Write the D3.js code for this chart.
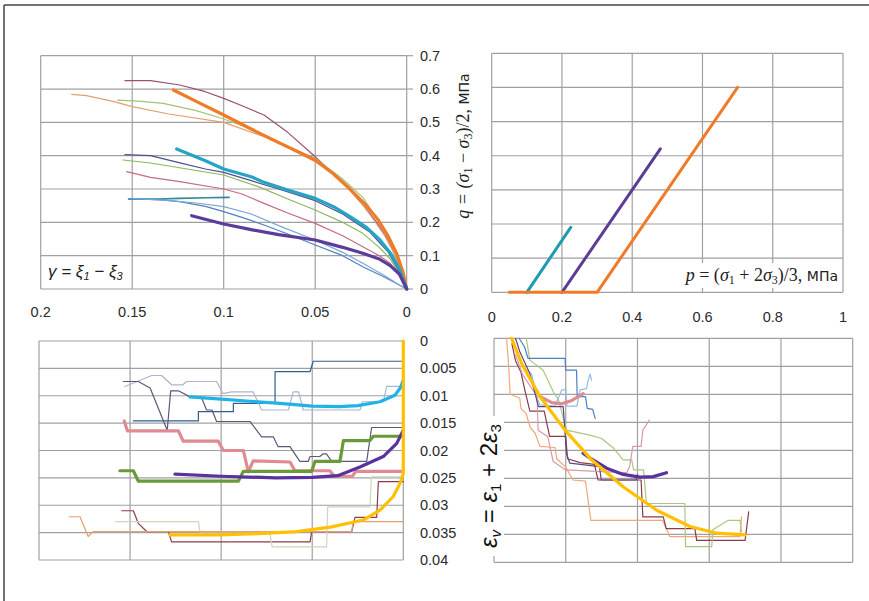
<!DOCTYPE html>
<html>
<head>
<meta charset="utf-8">
<script src="https://cdn.jsdelivr.net/npm/d3@7"></script>
<style>
  body { margin: 0; background: #fff; }
  text { font-family: "Liberation Sans", Arial, sans-serif; }
</style>
</head>
<body>
<div id="chart-area"></div>
<script>
// ---- tick values ----
var gammaTicks = [0.2, 0.15, 0.1, 0.05, 0];
var qTicks = [0, 0.1, 0.2, 0.3, 0.4, 0.5, 0.6, 0.7];
var pTicks = [0, 0.2, 0.4, 0.6, 0.8, 1];
var evTicks = [0, 0.005, 0.01, 0.015, 0.02, 0.025, 0.03, 0.035, 0.04];

// ---- top left: q vs gamma, [gamma, q] ----
var qg_maroon = [[0.154,0.625],[0.14,0.625],[0.124,0.612],[0.11,0.592],[0.1,0.572],[0.09,0.55],[0.078,0.522],[0.065,0.47],[0.05,0.397],[0.04,0.345],[0.031,0.297],[0.022,0.24],[0.016,0.197],[0.01,0.145],[0.0055,0.097],[0.002,0.05],[0,0]];
var qg_orangeThin = [[0.183,0.584],[0.175,0.58],[0.16,0.562],[0.15,0.547],[0.13,0.525],[0.1,0.5],[0.078,0.457],[0.065,0.425],[0.05,0.382],[0.04,0.345],[0.033,0.307],[0.025,0.26],[0.018,0.207],[0.012,0.16],[0.007,0.107],[0.003,0.05],[0,0]];
var qg_lightGreen = [[0.158,0.567],[0.145,0.563],[0.133,0.557],[0.115,0.535],[0.1,0.51],[0.085,0.48],[0.07,0.44],[0.05,0.392],[0.035,0.33],[0.024,0.275],[0.015,0.2],[0.008,0.13],[0.003,0.06],[0,0]];
var qg_navy = [[0.154,0.403],[0.14,0.4],[0.125,0.38],[0.11,0.36],[0.1,0.35],[0.085,0.325],[0.07,0.3],[0.05,0.265],[0.035,0.225],[0.02,0.17],[0.01,0.11],[0.004,0.05],[0,0]];
var qg_green = [[0.155,0.387],[0.14,0.378],[0.12,0.36],[0.1,0.342],[0.08,0.305],[0.065,0.27],[0.05,0.237],[0.035,0.2],[0.024,0.167],[0.015,0.125],[0.009,0.09],[0.004,0.045],[0,0]];
var qg_red = [[0.153,0.352],[0.14,0.335],[0.124,0.322],[0.1,0.3],[0.09,0.285],[0.078,0.257],[0.065,0.228],[0.05,0.197],[0.035,0.16],[0.024,0.127],[0.015,0.1],[0.009,0.077],[0.004,0.04],[0,0]];
var qg_teal = [[0.152,0.27],[0.135,0.27],[0.124,0.272],[0.11,0.274],[0.097,0.275]];
var qg_blue = [[0.152,0.27],[0.135,0.268],[0.124,0.262],[0.11,0.248],[0.1,0.232],[0.09,0.215],[0.078,0.192],[0.065,0.165],[0.05,0.132],[0.035,0.1],[0.024,0.067],[0.012,0.035],[0.004,0.012],[0,0]];
var qg_lightBlue = [[0.15,0.272],[0.13,0.265],[0.115,0.258],[0.1,0.247],[0.085,0.225],[0.07,0.19],[0.05,0.147],[0.035,0.11],[0.024,0.077],[0.012,0.04],[0.004,0.012],[0,0]];
var qg_orange = [[0.1275,0.597],[0.115,0.563],[0.1,0.522],[0.085,0.48],[0.069,0.437],[0.05,0.387],[0.04,0.345],[0.031,0.3],[0.022,0.25],[0.0155,0.207],[0.01,0.157],[0.0055,0.107],[0.002,0.05],[0,0]];
var qg_cyan = [[0.1257,0.42],[0.11,0.385],[0.1,0.36],[0.085,0.337],[0.078,0.32],[0.065,0.297],[0.05,0.272],[0.04,0.247],[0.031,0.217],[0.022,0.185],[0.0146,0.147],[0.0085,0.105],[0.004,0.06],[0,0]];
var qg_purple = [[0.1175,0.22],[0.1,0.195],[0.085,0.178],[0.07,0.163],[0.05,0.147],[0.035,0.125],[0.024,0.107],[0.015,0.09],[0.009,0.07],[0.004,0.045],[0,0]];

// ---- top right: q vs p, [p, q] ----
var qp_teal = [[0.1,0],[0.225,0.19]];
var qp_purple = [[0.2,0],[0.48,0.42]];
var qp_orange = [[0.05,0],[0.3,0],[0.7,0.6]];

// ---- bottom left: eps_v vs gamma, [gamma, eps_v] ----
var eg_navy = [[0.1482,0.0146],[0.1125,0.0146],[0.1125,0.0129],[0.0933,0.0129],[0.0933,0.0114],[0.0704,0.0114],[0.0704,0.0056],[0.0512,0.0056],[0.0494,0.0037],[0,0.0037]];
var eg_pale = [[0.1528,0.0083],[0.1381,0.0063],[0.1327,0.0063],[0.1272,0.008],[0.121,0.008],[0.119,0.0074],[0.1025,0.0074],[0.099,0.0096],[0.0943,0.0093],[0.0824,0.0093],[0.0778,0.0126],[0.0631,0.0126],[0.0604,0.0093],[0.0575,0.0093],[0.0549,0.0126],[0.0238,0.0126],[0.0225,0.0111],[0.011,0.0111],[0.0091,0.0083],[0,0.0083]];
var eg_slate = [[0.1537,0.0074],[0.1455,0.0074],[0.139,0.0086],[0.1296,0.0163],[0.1277,0.0091],[0.1235,0.0091],[0.1171,0.0102],[0.111,0.0102],[0.108,0.0126],[0.105,0.0126],[0.1025,0.0147],[0.0842,0.0147],[0.0778,0.0175],[0.0714,0.0175],[0.0687,0.0193],[0.0622,0.0193],[0.0568,0.022],[0.0522,0.022],[0.0512,0.0211],[0.0458,0.0211],[0.044,0.0206],[0.0422,0.0206],[0.0393,0.022],[0.0201,0.022],[0.0174,0.0158],[0,0.0158]];
var eg_maroon = [[0.1546,0.031],[0.1482,0.031],[0.1455,0.0333],[0.1409,0.0348],[0.129,0.0348],[0.1272,0.0367],[0.0512,0.0367],[0.0503,0.0348],[0.0283,0.0348],[0.0265,0.0322],[0.0146,0.0322],[0.0137,0.0257],[0,0.0257]];
var eg_sage = [[0.1578,0.033],[0.1125,0.033],[0.1115,0.0351],[0.0732,0.0351],[0.072,0.0376],[0.0421,0.0376],[0.0415,0.0303],[0.0183,0.0303],[0.0175,0.0248],[0,0.0248]];
var eg_orangeThin = [[0.1834,0.0321],[0.1775,0.0321],[0.173,0.0357],[0.1702,0.0348],[0.0283,0.0348],[0.0275,0.033],[0,0.033]];
var eg_pink = [[0.1532,0.0146],[0.1515,0.0164],[0.1235,0.0164],[0.1208,0.0183],[0.1016,0.0183],[0.0988,0.02],[0.0878,0.02],[0.0851,0.0239],[0.0824,0.0219],[0.0622,0.0221],[0.0595,0.0237],[0.0403,0.0237],[0.038,0.0247],[0.028,0.0247],[0.026,0.0238],[0,0.0238]];
var eg_green = [[0.1556,0.0237],[0.1482,0.0237],[0.1455,0.0256],[0.0906,0.0256],[0.0878,0.0238],[0.0503,0.0238],[0.0485,0.022],[0.0348,0.022],[0.0329,0.0182],[0.0183,0.0182],[0.0165,0.0174],[0,0.0174]];
var eg_purple = [[0.1254,0.0243],[0.1,0.0247],[0.07,0.025],[0.05,0.0249],[0.036,0.0246],[0.0238,0.023],[0.011,0.0211],[0.0036,0.0187],[0,0.0163]];
var eg_cyan = [[0.1172,0.0102],[0.1,0.0106],[0.0842,0.011],[0.0677,0.0114],[0.05,0.0119],[0.035,0.012],[0.025,0.0118],[0.0128,0.0111],[0.0046,0.0099],[0.0015,0.0085],[0,0.0071]];
var eg_yellow = [[0.1281,0.0354],[0.1,0.0354],[0.08,0.0352],[0.0586,0.0348],[0.04,0.034],[0.022,0.0327],[0.0128,0.0309],[0.0055,0.0284],[0.0018,0.026],[0,0.0242],[0,0]];

// ---- bottom right: eps_v vs p, [p, eps_v] ----
var ep_orangeThin = [[0.035,0],[0.04,0.004],[0.045,0.01],[0.072,0.0107],[0.075,0.0125],[0.09,0.0135],[0.1,0.0158],[0.115,0.017],[0.128,0.0193],[0.17,0.0195],[0.175,0.0215],[0.2,0.023],[0.22,0.0253],[0.255,0.0255],[0.27,0.0325],[0.47,0.0325],[0.49,0.0354],[0.686,0.0354],[0.69,0.0319]];
var ep_maroon = [[0.05,0.001],[0.06,0.004],[0.075,0.006],[0.085,0.009],[0.1,0.013],[0.14,0.013],[0.155,0.0175],[0.2,0.0175],[0.205,0.0215],[0.24,0.0222],[0.28,0.0225],[0.29,0.0253],[0.41,0.0253],[0.415,0.0319],[0.472,0.0319],[0.48,0.034],[0.56,0.034],[0.565,0.0361],[0.7,0.0361],[0.71,0.031]];
var ep_lightGreen = [[0.09,0],[0.1,0.0039],[0.137,0.0057],[0.165,0.0095],[0.18,0.011],[0.202,0.0164],[0.267,0.0173],[0.3,0.0179],[0.333,0.0196],[0.36,0.0217],[0.384,0.0217],[0.389,0.0235],[0.417,0.0235],[0.425,0.0295],[0.532,0.0295],[0.534,0.0372],[0.607,0.0372],[0.61,0.0342],[0.653,0.0325],[0.686,0.0325],[0.69,0.0345]];
var ep_blue = [[0.07,0],[0.085,0.0015],[0.095,0.0036],[0.198,0.0036],[0.2,0.0057],[0.23,0.0057],[0.232,0.0104],[0.255,0.0104],[0.26,0.0125],[0.275,0.0127],[0.282,0.0143]];
var ep_lightBlue = [[0.082,0.0051],[0.105,0.0064],[0.119,0.0104],[0.128,0.0119],[0.17,0.0121],[0.189,0.0092],[0.2,0.0092],[0.203,0.0121],[0.231,0.0121],[0.24,0.0092],[0.258,0.009],[0.262,0.0076],[0.268,0.0064],[0.272,0.0075]];
var ep_pinkThin = [[0.06,0.003],[0.08,0.0065],[0.12,0.0104],[0.123,0.0164],[0.15,0.0176],[0.165,0.022],[0.2,0.0235],[0.3,0.0238],[0.37,0.024],[0.378,0.0229],[0.387,0.0193],[0.41,0.0193],[0.415,0.0164],[0.433,0.0146]];
var ep_dark = [[0.06,0],[0.072,0.0024],[0.1,0.0063],[0.124,0.0122],[0.193,0.0122],[0.202,0.0205],[0.211,0.0223],[0.294,0.0229],[0.299,0.0253],[0.396,0.0253],[0.4,0.0243]];
var ep_pink = [[0.128,0.0104],[0.161,0.0115],[0.189,0.0117],[0.217,0.0111],[0.249,0.0099]];
var ep_purple = [[0.248,0.0205],[0.268,0.0214],[0.314,0.0232],[0.36,0.0243],[0.407,0.0248],[0.444,0.0247],[0.481,0.024]];
var ep_yellow = [[0.049,0],[0.077,0.0045],[0.128,0.0104],[0.198,0.0164],[0.272,0.0217],[0.36,0.0265],[0.4536,0.0307],[0.5464,0.0336],[0.621,0.0348],[0.70,0.0351]];

var svg = d3.select("#chart-area")
    .append("svg")
        .attr("width", 869)
        .attr("height", 601);

svg.append("rect").attr("width", 869).attr("height", 601).attr("fill", "#fff");

// frame of the figure
svg.append("line").attr("x1", 4).attr("x2", 4).attr("y1", 5).attr("y2", 601)
    .attr("stroke", "#444").attr("stroke-width", 1.5);
svg.append("line").attr("x1", 4).attr("x2", 869).attr("y1", 5).attr("y2", 5)
    .attr("stroke", "#444").attr("stroke-width", 1.5);

var gridColor = "#a0a0a0";

// draws gridlines of one panel and returns its scales
function panel(xDomain, xRange, yDomain, yRange, xTicks, yTicks) {
    var x = d3.scaleLinear().domain(xDomain).range(xRange);
    var y = d3.scaleLinear().domain(yDomain).range(yRange);
    var g = svg.append("g");
    g.selectAll(".vg").data(xTicks).enter().append("line")
        .attr("x1", d => x(d)).attr("x2", d => x(d))
        .attr("y1", yRange[0]).attr("y2", yRange[1])
        .attr("stroke", gridColor).attr("stroke-width", 1.2);
    g.selectAll(".hg").data(yTicks).enter().append("line")
        .attr("x1", xRange[0]).attr("x2", xRange[1])
        .attr("y1", d => y(d)).attr("y2", d => y(d))
        .attr("stroke", gridColor).attr("stroke-width", 1.2);
    return {x: x, y: y, g: g};
}

function draw(p, data, color, width) {
    var line = d3.line().x(d => p.x(d[0])).y(d => p.y(d[1]));
    p.g.append("path")
        .attr("d", line(data))
        .attr("fill", "none")
        .attr("stroke", color)
        .attr("stroke-width", width)
        .attr("stroke-linejoin", "round")
        .attr("stroke-linecap", "round");
}

function tickText(x, y, str, anchor) {
    svg.append("text").attr("x", x).attr("y", y).attr("dy", "0.35em")
        .attr("text-anchor", anchor).attr("font-size", 14.5).attr("fill", "#2a2a2a")
        .text(str);
}

// ---------- panel A ----------
var A = panel([0.2, 0], [40.7, 406.7], [0, 0.7], [289, 55.7], gammaTicks, qTicks);
qTicks.forEach(function(t) {
    A.g.append("line").attr("x1", 406.7).attr("x2", 413).attr("y1", A.y(t)).attr("y2", A.y(t))
        .attr("stroke", gridColor).attr("stroke-width", 1.2);
    tickText(420, A.y(t), String(t), "start");
});
gammaTicks.forEach(function(t) { tickText(A.x(t), 312, String(t), "middle"); });

draw(A, qg_maroon, "#9a4f73", 1.2);
draw(A, qg_orangeThin, "#e3a06c", 1.2);
draw(A, qg_lightGreen, "#a3c27a", 1.2);
draw(A, qg_navy, "#4d4f8c", 1.2);
draw(A, qg_green, "#8db65f", 1.2);
draw(A, qg_red, "#c86a82", 1.2);
draw(A, qg_teal, "#2d8a9a", 1.6);
draw(A, qg_blue, "#4f7fbf", 1.2);
draw(A, qg_lightBlue, "#7aa6d6", 1.2);
draw(A, qg_orange, "#f07a28", 3.2);
draw(A, qg_cyan, "#27a3c6", 3.2);
draw(A, qg_purple, "#5b3c9c", 3.2);

// gamma label
svg.append("rect").attr("x", 42).attr("y", 257).attr("width", 88).attr("height", 28).attr("fill", "#fff");
var gl = svg.append("text").attr("x", 48).attr("y", 277)
    .attr("font-family", "Liberation Serif").attr("font-style", "italic").attr("font-size", 17).attr("fill", "#222");
gl.append("tspan").text("γ = ξ");
gl.append("tspan").attr("font-size", 11).attr("dy", 3).text("1");
gl.append("tspan").attr("dy", -3).text(" − ξ");
gl.append("tspan").attr("font-size", 11).attr("dy", 3).text("3");

// q axis title
var ql = svg.append("text").attr("transform", "translate(469,146) rotate(-90)")
    .attr("text-anchor", "middle").attr("font-size", 18).attr("fill", "#222");
ql.append("tspan").attr("font-family", "Liberation Serif").attr("font-style", "italic").text("q = (σ");
ql.append("tspan").attr("font-family", "Liberation Serif").attr("font-size", 12).attr("dy", 3).text("1");
ql.append("tspan").attr("font-family", "Liberation Serif").attr("dy", -3).text(" − ");
ql.append("tspan").attr("font-family", "Liberation Serif").attr("font-style", "italic").text("σ");
ql.append("tspan").attr("font-family", "Liberation Serif").attr("font-size", 12).attr("dy", 3).text("3");
ql.append("tspan").attr("font-family", "Liberation Serif").attr("dy", -3).text(")/2, ");
ql.append("tspan").attr("font-family", "DejaVu Sans").attr("font-size", 14).text("МПа");

// ---------- panel B ----------
var B = panel([0, 1], [491.7, 843], [0, 0.7], [292.3, 53.3], pTicks, qTicks);
pTicks.forEach(function(t) { tickText(B.x(t), 317, String(t), "middle"); });
draw(B, qp_teal, "#1e9bb0", 3);
draw(B, qp_purple, "#5b3d96", 3);
draw(B, qp_orange, "#f07a28", 3);

svg.append("rect").attr("x", 636).attr("y", 263).attr("width", 204).attr("height", 25).attr("fill", "#fff");
var pl = svg.append("text").attr("x", 838).attr("y", 281).attr("text-anchor", "end")
    .attr("font-size", 18).attr("fill", "#222");
pl.append("tspan").attr("font-family", "Liberation Serif").attr("font-style", "italic").text("p");
pl.append("tspan").attr("font-family", "Liberation Serif").text(" = (");
pl.append("tspan").attr("font-family", "Liberation Serif").attr("font-style", "italic").text("σ");
pl.append("tspan").attr("font-family", "Liberation Serif").attr("font-size", 12).attr("dy", 3).text("1");
pl.append("tspan").attr("font-family", "Liberation Serif").attr("dy", -3).text(" + 2");
pl.append("tspan").attr("font-family", "Liberation Serif").attr("font-style", "italic").text("σ");
pl.append("tspan").attr("font-family", "Liberation Serif").attr("font-size", 12).attr("dy", 3).text("3");
pl.append("tspan").attr("font-family", "Liberation Serif").attr("dy", -3).text(")/3, ");
pl.append("tspan").attr("font-family", "DejaVu Sans").attr("font-size", 14).text("МПа");

// ---------- panel C ----------
var C = panel([0.2, 0], [39, 403.3], [0, 0.04], [341, 560], gammaTicks, evTicks);
evTicks.forEach(function(t) { tickText(420, C.y(t), String(t), "start"); });
draw(C, eg_navy, "#2e5f8f", 1.2);
draw(C, eg_pale, "#aab6cc", 1.2);
draw(C, eg_slate, "#5a5a78", 1.2);
draw(C, eg_maroon, "#8b3c4c", 1.2);
draw(C, eg_sage, "#cdd5bd", 1.2);
draw(C, eg_orangeThin, "#e8a070", 1.2);
draw(C, eg_pink, "#e08a92", 3.2);
draw(C, eg_green, "#6a9a38", 3.2);
draw(C, eg_purple, "#5a32a0", 3.2);
draw(C, eg_cyan, "#22b2e6", 3.2);
draw(C, eg_yellow, "#ffc000", 3.2);

// ---------- panel D ----------
var D = panel([0, 1], [494, 852.7], [0, 0.04], [338.3, 562.3], pTicks, evTicks);
draw(D, ep_orangeThin, "#f0a878", 1.2);
draw(D, ep_maroon, "#8b3a4a", 1.2);
draw(D, ep_lightGreen, "#a8c880", 1.2);
draw(D, ep_blue, "#4f7fbf", 1.2);
draw(D, ep_lightBlue, "#94bce2", 1.2);
draw(D, ep_pinkThin, "#d89aa8", 1.2);
draw(D, ep_dark, "#604878", 1.2);
draw(D, ep_pink, "#e08a92", 3.2);
draw(D, ep_purple, "#5a32a0", 3.2);
draw(D, ep_yellow, "#ffc000", 3.2);

svg.append("rect").attr("x", 470).attr("y", 416).attr("width", 34).attr("height", 140).attr("fill", "#fff");
var el = svg.append("text").attr("transform", "translate(497,486) rotate(-90)")
    .attr("text-anchor", "middle").attr("font-family", "Liberation Serif")
    .attr("font-size", 24).attr("fill", "#111");
el.append("tspan").attr("font-style", "italic").text("ε");
el.append("tspan").attr("font-style", "italic").attr("font-size", 15).attr("dy", 4).text("v");
el.append("tspan").attr("dy", -4).text(" = ");
el.append("tspan").attr("font-style", "italic").text("ε");
el.append("tspan").attr("font-size", 15).attr("dy", 4).text("1");
el.append("tspan").attr("dy", -4).text(" + 2");
el.append("tspan").attr("font-style", "italic").text("ε");
el.append("tspan").attr("font-size", 15).attr("dy", 4).text("3");
</script>
</body>
</html>
